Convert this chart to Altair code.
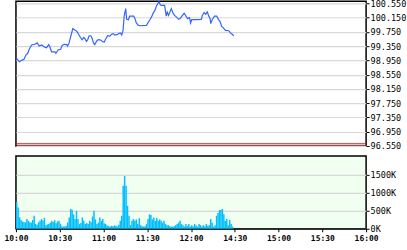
import altair as alt
import pandas as pd

# ---- data ----
# price line: trading minute since 10:00 (lunch break removed), price
price_min = [0, 2.3, 3.9, 5.5, 6.8, 8, 9.1, 10.7, 13, 14.6, 15.9, 17.6, 19.8, 21, 22.4, 23.2,
             24.4, 26.7, 27.4, 28.9, 30.6, 31.7, 33, 34.7, 35.4, 36.4, 37.6, 39, 40.3, 41.7,
             42.9, 44.2, 45.3, 46.5, 47.4, 48.3, 49.2, 50.1, 51.3, 52.2, 53.1, 54, 55.2, 56.3,
             58.1, 59.3, 60.4, 61.5, 62.9, 64.3, 65.6, 66.8, 67.7, 69.3, 70.4, 71.6, 72.5, 73.4,
             74.2, 75.2, 75.9, 77.1, 77.9, 80.7, 81.6, 82.5, 83.9, 85.9, 89.4, 90.7, 92.1, 93.2,
             93.9, 95.2, 96.2, 98, 98.9, 99.8, 101.9, 103, 103.7, 104.6, 105.8, 106.5, 107.6,
             108.7, 109.9, 111.5, 112.6, 113.7, 115.3, 116.4, 117.6, 119, 119.7, 120.5, 123.6,
             127, 127.7, 129, 130.1, 131.1, 132.2, 133.1, 133.5, 134.5, 136.1, 137.6, 138.8, 140,
             140.9, 142, 143.6, 145.9, 147, 148.2, 149.3]
price_val = [99.03, 98.91, 98.95, 98.98, 99.10, 99.14, 99.26, 99.38, 99.40, 99.44, 99.35, 99.38,
             99.32, 99.30, 99.39, 99.33, 99.19, 99.19, 99.15, 99.24, 99.26, 99.37, 99.40, 99.39,
             99.35, 99.44, 99.63, 99.84, 99.80, 99.77, 99.68, 99.59, 99.53, 99.59, 99.55, 99.48,
             99.53, 99.64, 99.64, 99.57, 99.44, 99.39, 99.48, 99.53, 99.52, 99.48, 99.46, 99.55,
             99.64, 99.63, 99.68, 99.70, 99.66, 99.67, 99.70, 99.72, 99.66, 99.79, 100.20, 100.40,
             100.10, 100.09, 100.19, 100.19, 100.12, 100.00, 99.93, 99.92, 99.93, 100.02, 100.11,
             100.19, 100.26, 100.35, 100.47, 100.60, 100.51, 100.49, 100.49, 100.19, 100.30,
             100.21, 100.33, 100.40, 100.28, 100.21, 100.17, 100.10, 100.12, 100.19, 100.27,
             100.20, 100.12, 100.15, 100.00, 100.09, 100.09, 100.10, 100.20, 100.29, 100.24,
             100.31, 100.19, 100.12, 99.98, 100.09, 100.19, 100.19, 100.10, 100.03, 99.91, 99.87,
             99.79, 99.78, 99.72, 99.68, 99.64]

# volume per trading minute, in thousands
volume_k = [750, 590, 320, 240, 200, 190, 175, 270, 220, 180, 170, 240, 360, 130, 110, 180,
            220, 270, 230, 300, 100, 120, 130, 170, 220, 190, 240, 150, 200, 220, 140, 70, 60,
            65, 80, 175, 315, 550, 530, 400, 270, 500, 270, 130, 160, 315, 220, 130, 160, 130,
            220, 180, 340, 500, 260, 130, 170, 315, 220, 270, 150, 130, 90, 70, 60, 80, 70, 90,
            80, 60, 110, 220, 360, 1195, 1470, 1195, 640, 360, 100, 220, 270, 220, 260, 130,
            290, 100, 70, 60, 70, 130, 270, 400, 380, 260, 315, 220, 300, 220, 260, 220, 170,
            220, 130, 100, 100, 70, 60, 60, 70, 100, 130, 170, 220, 130, 100, 60, 130, 80, 130,
            60, 100, 60, 130, 90, 60, 130, 100, 60, 100, 60, 130, 80, 100, 270, 170, 60, 100,
            360, 435, 520, 520, 550, 400, 220, 270, 100, 250, 130, 60]

ref_level = [96.61]
price_ticks = [96.55, 96.95, 97.35, 97.75, 98.15, 98.55, 98.95, 99.35, 99.75, 100.15, 100.55]
vol_ticks = [0, 500, 1000, 1500]
time_ticks = [0, 30, 60, 90, 120, 150, 180, 210, 240]
time_labels = ["10:00", "10:30", "11:00", "11:30", "12:00", "14:30", "15:00", "15:30", "16:00"]

FONT = "DejaVu Sans Mono"
W = 351

price_df = pd.DataFrame({"m": price_min, "p": price_val})
vol_df = pd.DataFrame({"m": list(range(len(volume_k))), "v": volume_k})
vol_df["m2"] = vol_df["m"] + 1
ref_df = pd.DataFrame({"p": ref_level})

xscale = alt.Scale(domain=[0, 240], nice=False, zero=False)
pscale = alt.Scale(domain=[96.55, 100.606], nice=False, zero=False)

label_expr = "[" + ",".join("'%s'" % t for t in time_labels) + "][round(datum.value/30)]"

price_axis = alt.Axis(orient="right", values=price_ticks, tickCount=len(price_ticks),
                      format=".3f", title=None, grid=True, gridColor="#d8d8d8", gridWidth=1.2,
                      tickColor="black", tickSize=3, labelFont=FONT, labelFontSize=8.5,
                      labelColor="black", labelPadding=1, domain=False, labelOverlap=False)

line = alt.Chart(price_df).mark_line(color="#3366FF", strokeWidth=1.2).encode(
    x=alt.X("m:Q", scale=xscale, axis=None),
    y=alt.Y("p:Q", scale=pscale, axis=price_axis),
)
ref = alt.Chart(ref_df).mark_rule(color="#FF0000", strokeWidth=1).encode(
    y=alt.Y("p:Q", scale=pscale, axis=price_axis)
)
top = alt.layer(ref, line).properties(
    width=W, height=145,
    view=alt.ViewBackground(fill="white", stroke="black", strokeWidth=1.5),
)

bars = alt.Chart(vol_df).mark_rect(color="#00BFFF").encode(
    x=alt.X("m:Q", scale=xscale,
            axis=alt.Axis(values=time_ticks, tickCount=len(time_ticks), labelExpr=label_expr,
                          title=None, grid=False, tickSize=3, tickColor="black",
                          domainColor="black", labelFont=FONT, labelFontSize=8,
                          labelFontWeight="bold", labelColor="black", labelPadding=3,
                          labelFlush=False, labelOverlap=False)),
    x2="m2:Q",
    y=alt.Y("v:Q", scale=alt.Scale(domain=[0, 2028], nice=False),
            axis=alt.Axis(orient="right", values=vol_ticks, tickCount=len(vol_ticks),
                          labelExpr="datum.value + 'K'", title=None, grid=True,
                          gridColor="#d8d8d8", gridWidth=1.2, tickColor="black", tickSize=3,
                          labelFont=FONT, labelFontSize=8.5, labelColor="black",
                          labelPadding=1, domain=False, labelOverlap=False)),
    y2=alt.datum(0),
)
bottom = bars.properties(
    width=W, height=73,
    view=alt.ViewBackground(fill="#F0FFF0", stroke="black", strokeWidth=1.5),
)

chart = alt.vconcat(top, bottom, spacing=10, bounds="flush").properties(
    padding={"left": 3, "top": -2, "right": 0, "bottom": 0},
    background="white",
)

chart.save("out.html", embed_options={"renderer": "svg", "actions": False})
